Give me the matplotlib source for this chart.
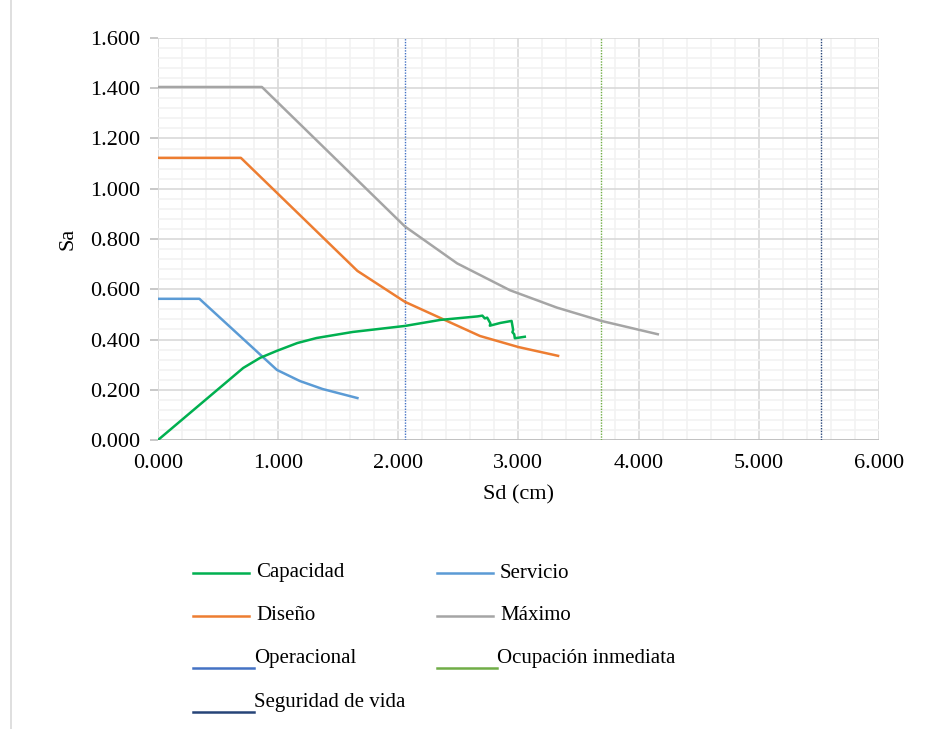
import matplotlib.pyplot as plt
from matplotlib.lines import Line2D
from matplotlib.ticker import MultipleLocator, FormatStrFormatter

plt.rcParams['font.family'] = ['Liberation Serif', 'DejaVu Serif']

# Curva de capacidad
cap_sd = [0.0, 0.71, 0.85, 0.99, 1.16, 1.32, 1.62, 2.055, 2.35, 2.66, 2.70,
          2.72, 2.74, 2.767, 2.762, 2.85, 2.943, 2.95, 2.956, 2.95, 2.965, 2.97, 3.053]
cap_sa = [0.0, 0.287, 0.327, 0.355, 0.386, 0.406, 0.430, 0.454, 0.478, 0.492, 0.495,
          0.484, 0.487, 0.464, 0.455, 0.466, 0.474, 0.455, 0.438, 0.429, 0.421, 0.405, 0.411]

# Espectros de demanda
serv_sd = [0.0, 0.345, 0.99, 1.18, 1.37, 1.66]
serv_sa = [0.562, 0.562, 0.279, 0.235, 0.203, 0.167]

dis_sd = [0.0, 0.69, 1.66, 2.055, 2.68, 3.0, 3.33]
dis_sa = [1.123, 1.123, 0.673, 0.550, 0.414, 0.370, 0.335]

max_sd = [0.0, 0.865, 2.055, 2.49, 2.93, 3.32, 3.69, 4.16]
max_sa = [1.405, 1.405, 0.850, 0.703, 0.596, 0.527, 0.474, 0.421]

# Niveles de desempeño
operacional = 2.055
ocupacion = 3.685
seguridad = 5.52

fig = plt.figure(figsize=(9.32, 7.29), dpi=100)
ax = fig.add_axes([0.1695, 0.3964, 0.7735, 0.5515])

ax.plot(cap_sd, cap_sa, color='#00B050', lw=1.8, zorder=5)
ax.plot(serv_sd, serv_sa, color='#5B9BD5', lw=1.8, zorder=4)
ax.plot(dis_sd, dis_sa, color='#ED7D31', lw=1.8, zorder=4)
ax.plot(max_sd, max_sa, color='#A5A5A5', lw=1.8, zorder=4)
ax.axvline(operacional, color='#4472C4', lw=1.0, ls=(0, (1, 1)), zorder=3)
ax.axvline(ocupacion, color='#70AD47', lw=1.0, ls=(0, (1, 1)), zorder=3)
ax.axvline(seguridad, color='#264478', lw=1.0, ls=(0, (1, 1)), zorder=3)

ax.set_xlim(0, 6)
ax.set_ylim(0, 1.6)
ax.xaxis.set_major_locator(MultipleLocator(1))
ax.xaxis.set_minor_locator(MultipleLocator(0.2))
ax.yaxis.set_major_locator(MultipleLocator(0.2))
ax.yaxis.set_minor_locator(MultipleLocator(0.04))
ax.xaxis.set_major_formatter(FormatStrFormatter('%.3f'))
ax.yaxis.set_major_formatter(FormatStrFormatter('%.3f'))

ax.grid(which='major', color='#D9D9D9', lw=1.2, zorder=1)
ax.grid(which='minor', color='#F2F2F2', lw=1.2, zorder=0)
ax.set_axisbelow(True)
for s in ax.spines.values():
    s.set_visible(False)
ax.axhline(0, color='#BFBFBF', lw=1.3, zorder=2)
ax.tick_params(axis='y', which='major', length=6, width=1.2, color='#BFBFBF',
               labelsize=16, pad=7)
ax.tick_params(axis='x', which='major', length=0, labelsize=16, pad=10)
ax.tick_params(which='minor', length=0)

ax.set_xlabel('Sd (cm)', fontsize=16, labelpad=9)
ax.set_ylabel('Sa', fontsize=16, labelpad=9)

# Leyenda manual
W, H = 932, 729


def fx(px):
    return px / W


def fy(py):
    return 1 - py / H


entries = [
    ('Capacidad', '#00B050', 193, 249, 573, 256, 573),
    ('Servicio', '#5B9BD5', 437, 493, 573, 500, 573),
    ('Diseño', '#ED7D31', 193, 249, 616, 256, 616),
    ('Máximo', '#A5A5A5', 437, 493, 616, 500, 616),
    ('Operacional', '#4472C4', 193, 254, 668, 254, 658),
    ('Ocupación inmediata', '#70AD47', 437, 497, 668, 497, 658),
    ('Seguridad de vida', '#264478', 193, 254, 712, 254, 702),
]
for label, col, x0, x1, ly, tx, ty in entries:
    fig.add_artist(Line2D([fx(x0), fx(x1)], [fy(ly), fy(ly)], color=col, lw=1.8))
    fig.text(fx(tx), fy(ty), label, fontsize=15, ha='left', va='center')

# Borde del área del gráfico
fig.add_artist(Line2D([fx(11), fx(11)], [0, 1], color='#D9D9D9', lw=1.2))

fig.savefig('out.png', dpi=100)
